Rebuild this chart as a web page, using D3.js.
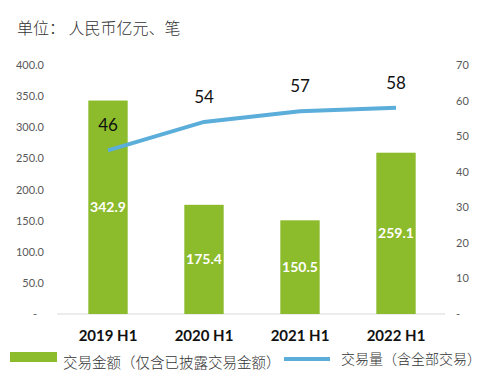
<!DOCTYPE html>
<html lang="zh">
<head>
<meta charset="UTF-8">
<title>交易金额与交易量</title>
<script src="https://cdn.jsdelivr.net/npm/d3@7"></script>
<style>
    body { margin: 0; background: #fff; }
    svg text { font-family: "Noto Sans CJK SC", sans-serif; }
    .num { font-family: Lato, "Liberation Sans", sans-serif; }
</style>
</head>
<body>
<div id="chart"></div>
<script>
    const periods = ['2019 H1', '2020 H1', '2021 H1', '2022 H1']
    const amounts = [342.9, 175.4, 150.5, 259.1]
    const counts = [46, 54, 57, 58]
    const leftTicks = [0, 50, 100, 150, 200, 250, 300, 350, 400]
    const rightTicks = [0, 10, 20, 30, 40, 50, 60, 70]

    const w = 485, h = 377
    const green = '#8cbb2b', blue = '#5badda'

    const svg = d3.select('#chart').append('svg')
        .attr('width', w)
        .attr('height', h)

    svg.append('text')
       .attr('x', 17).attr('y', 34)
       .attr('font-size', 16)
       .attr('font-weight', 300)
       .attr('fill', '#333')
       .text('单位： 人民币亿元、笔')

    const xScale = d3.scaleBand()
        .domain(periods)
        .range([60, 444])
        .paddingInner(0.59)
        .paddingOuter(0.295)

    const yLeft = d3.scaleLinear().domain([0, 400]).range([314, 65])
    const yRight = d3.scaleLinear().domain([0, 70]).range([314, 65])

    // left axis
    const leftAxis = d3.axisLeft(yLeft)
        .tickValues(leftTicks)
        .tickSize(0)
        .tickPadding(0)
        .tickFormat(d => d === 0 ? '-' : d3.format('.1f')(d))
    const gl = svg.append('g')
        .attr('transform', 'translate(44,0)')
        .call(leftAxis)
    gl.select('.domain').remove()
    gl.selectAll('text')
      .attr('class', 'num')
      .attr('font-size', 11)
      .attr('fill', '#595959')
      .attr('dx', d => d === 0 ? -7 : 0)

    // right axis
    const rightAxis = d3.axisRight(yRight)
        .tickValues(rightTicks)
        .tickSize(0)
        .tickPadding(0)
        .tickFormat(d => d === 0 ? '-' : d)
    const gr = svg.append('g')
        .attr('transform', 'translate(456,0)')
        .call(rightAxis)
    gr.select('.domain').remove()
    gr.selectAll('text')
      .attr('class', 'num')
      .attr('font-size', 11)
      .attr('fill', '#595959')

    // baseline
    svg.append('line')
       .attr('x1', 57).attr('x2', 445)
       .attr('y1', yLeft(0)).attr('y2', yLeft(0))
       .attr('stroke', '#d9d9d9')
       .attr('stroke-width', 1)

    // x axis labels
    const xAxis = d3.axisBottom(xScale).tickSize(0).tickPadding(0)
    const gx = svg.append('g')
        .attr('transform', 'translate(0,330)')
        .call(xAxis)
    gx.select('.domain').remove()
    gx.selectAll('text')
      .attr('class', 'num')
      .attr('font-size', 15)
      .attr('font-weight', 'bold')
      .attr('fill', '#111')

    // bars
    svg.selectAll('rect.bar')
       .data(amounts)
       .enter()
       .append('rect')
       .attr('class', 'bar')
       .attr('x', (d, i) => xScale(periods[i]))
       .attr('y', d => yLeft(d))
       .attr('width', xScale.bandwidth())
       .attr('height', d => yLeft(0) - yLeft(d))
       .attr('fill', green)

    svg.selectAll('text.barlabel')
       .data(amounts)
       .enter()
       .append('text')
       .attr('class', 'barlabel num')
       .attr('x', (d, i) => xScale(periods[i]) + xScale.bandwidth() / 2)
       .attr('y', d => (yLeft(d) + yLeft(0)) / 2 + 5)
       .attr('text-anchor', 'middle')
       .attr('font-size', 14)
       .attr('font-weight', 'bold')
       .attr('fill', '#fff')
       .text(d => d.toFixed(1))

    // line
    const cx = i => xScale(periods[i]) + xScale.bandwidth() / 2
    const line = d3.line()
        .x((d, i) => cx(i))
        .y(d => yRight(d))
    svg.append('path')
       .datum(counts)
       .attr('d', line)
       .attr('fill', 'none')
       .attr('stroke', blue)
       .attr('stroke-width', 4)

    svg.selectAll('text.linelabel')
       .data(counts)
       .enter()
       .append('text')
       .attr('class', 'linelabel num')
       .attr('x', (d, i) => cx(i))
       .attr('y', d => yRight(d) - 19)
       .attr('text-anchor', 'middle')
       .attr('font-size', 17)
       .attr('fill', '#111')
       .text(d => d)

    // legend
    svg.append('rect')
       .attr('x', 10).attr('y', 352)
       .attr('width', 47).attr('height', 10)
       .attr('fill', green)
    svg.append('text')
       .attr('x', 63).attr('y', 368)
       .attr('font-size', 14.5)
       .attr('font-weight', 300)
       .attr('fill', '#333')
       .text('交易金额（仅含已披露交易金额）')
    svg.append('line')
       .attr('x1', 284).attr('x2', 330)
       .attr('y1', 359).attr('y2', 359)
       .attr('stroke', blue)
       .attr('stroke-width', 4)
    svg.append('text')
       .attr('x', 341).attr('y', 364)
       .attr('font-size', 14)
       .attr('font-weight', 300)
       .attr('fill', '#333')
       .text('交易量（含全部交易）')
</script>
</body>
</html>
